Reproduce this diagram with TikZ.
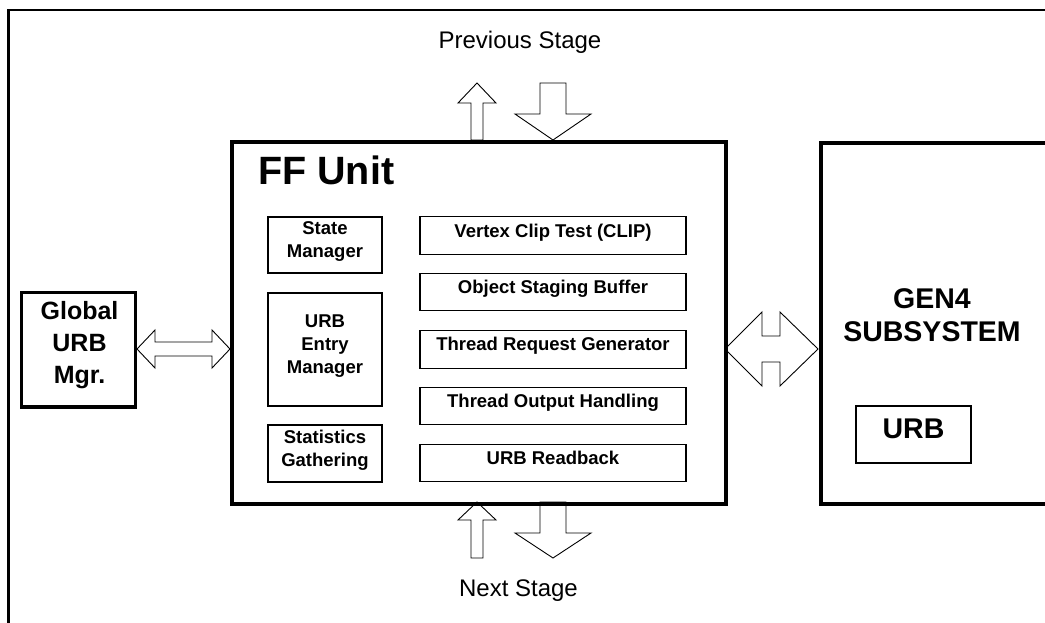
\documentclass[tikz,border=0pt]{standalone}
\usepackage{fontspec}
\setmainfont{Liberation Sans}
\usetikzlibrary{calc,backgrounds}
\begin{document}
\begin{tikzpicture}[x=1pt,y=-1pt,
  box/.style={draw, line width=1.1pt, inner sep=0pt},
  heavybox/.style={draw, line width=4pt, inner sep=0pt},
  lbl/.style={font=\bfseries\fontsize{18.5}{23}\selectfont, align=center, inner sep=0pt, anchor=base},
  biglbl/.style={font=\bfseries\fontsize{28.5}{33.4}\selectfont, align=center, inner sep=0pt, anchor=base},
  stagelbl/.style={font=\fontsize{24}{28}\selectfont, inner sep=0pt, anchor=base},
  blockarrow/.style={draw, line width=0.9pt, fill=white, line join=miter},
  frameline/.style={line width=2.5pt},
]
\useasboundingbox (0,0) rectangle (1045,623);
\begin{scope}
\clip (0,0) rectangle (1045,623);
\draw[frameline] (1100,10) -- (8.7,10) -- (8.7,700);
\node[heavybox, minimum width=300, minimum height=360.7, anchor=north west] (gen) at (818.7,141) {};
\end{scope}

% main boxes
\node[heavybox, minimum width=494.5, minimum height=361.2, anchor=north west] (ff) at (229.5,140.5) {};
\node[heavybox, line width=3.5pt, minimum width=114, minimum height=114.7] (gm) at (78.3,349.7) {};
\node[box, minimum width=115, minimum height=57] (urb) at (913.5,434.5) {};

% inner boxes, left column
\node[box, minimum width=114, minimum height=56] (sm) at (325,245) {};
\node[box, minimum width=114, minimum height=113] (ue) at (325,349.5) {};
\node[box, minimum width=114, minimum height=57] (sg) at (325,453.5) {};
% inner boxes, right column
\node[box, minimum width=266, minimum height=37.5] (vc) at (553,235.5) {};
\node[box, minimum width=266, minimum height=37.5] (os) at (553,292) {};
\node[box, minimum width=266, minimum height=37.5] (tr) at (553,349.5) {};
\node[box, minimum width=266, minimum height=37.5] (to) at (553,406) {};
\node[box, minimum width=266, minimum height=37.5] (rb) at (553,463) {};

% texts (base anchor = baseline of the last line)
\node[font=\bfseries\fontsize{39.5}{45}\selectfont, inner sep=0pt, anchor=base west] (fft) at (258,185) {FF Unit};
\node[lbl] (smt) at (325,257.3) {State\\Manager};
\node[lbl] (uet) at (325,373.3) {URB\\Entry\\Manager};
\node[lbl] (sgt) at (325,466) {Statistics\\Gathering};
\node[lbl] (vct) at (553,237) {Vertex Clip Test (CLIP)};
\node[lbl] (ost) at (553,293.5) {Object Staging Buffer};
\node[lbl] (trt) at (553,350.5) {Thread Request Generator};
\node[lbl] (tot) at (553,407.5) {Thread Output Handling};
\node[lbl] (rbt) at (553,464) {URB Readback};
\node[biglbl] (gent) at (932,341.7) {GEN4\\SUBSYSTEM};
\node[biglbl] (urbt) at (913.5,438.3) {URB};
\node[font=\bfseries\fontsize{25}{31.7}\selectfont, align=center, inner sep=0pt, anchor=base] (gmt) at (79.5,383.3) {Global\\URB\\Mgr.};
\node[stagelbl] (prev) at (520,49) {Previous Stage};
\node[stagelbl] (next) at (518.5,596) {Next Stage};

% block arrows
\begin{scope}[on background layer]
\draw[blockarrow] (471,140) -- (471,103) -- (458,103) -- (477,83) -- (496,103) -- (483,103) -- (483,140) -- cycle;
\draw[blockarrow] (540,83) -- (566,83) -- (566,114) -- (591,114) -- (553,140) -- (515,114) -- (540,114) -- cycle;
\draw[blockarrow] (471,558) -- (471,520) -- (458,520) -- (477,502) -- (496,520) -- (483,520) -- (483,558) -- cycle;
\draw[blockarrow] (540,502) -- (540,533) -- (515,533) -- (553,558) -- (591,533) -- (566,533) -- (566,502) -- cycle;
\draw[blockarrow] (137,349) -- (155,330) -- (155,342) -- (212,342) -- (212,330) -- (230,349) -- (212,368) -- (212,356) -- (155,356) -- (155,368) -- cycle;
\draw[blockarrow] (725,349) -- (762,312) -- (762,336) -- (780,336) -- (780,312) -- (818,349) -- (780,386) -- (780,362) -- (762,362) -- (762,386) -- cycle;
\end{scope}
\end{tikzpicture}
\end{document}
